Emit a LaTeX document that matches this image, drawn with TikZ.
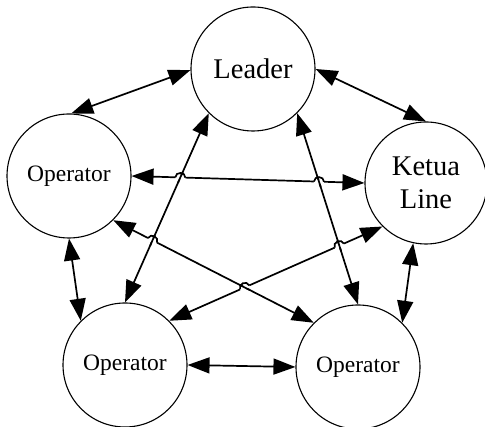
\documentclass[tikz,border=0pt]{standalone}
\usepackage{fontspec}
\setmainfont{Liberation Serif}
\usetikzlibrary{arrows.meta,calc,intersections}
\newcommand\hophere[6]{%
  \path[name intersections={of=#1 and #2,by=X}];
  \coordinate (hA) at ($(X)!5pt!(#3)$);
  \coordinate (hB) at ($(X)!5pt!(#4)$);
  \draw[white,line width=4pt] (hA) -- (hB);
  \draw[conn] ($(X)!6pt!(#5)$) -- ($(X)!6pt!(#6)$);
  \draw[conn] (hA) .. controls ($(hA)!6pt!90:(hB)$) and ($(hB)!6pt!-90:(hA)$) .. (hB);
}
\begin{document}
\begin{tikzpicture}[x=1pt,y=1pt,
  circ/.style={circle,draw,line width=1.1pt,minimum size=124pt,inner sep=0pt,align=center},
  big/.style={font=\fontsize{28.5}{33}\selectfont},
  small/.style={font=\fontsize{23.5}{28}\selectfont},
  conn/.style={line width=1.7pt,>={Triangle[length=22pt,width=16pt]}}]
\useasboundingbox (0,0) rectangle (485,427);
\node[circ,big] (leader) at (253,358) {Leader};
\node[circ,small] (lop) at (69,251) {Operator};
\node[circ,big,minimum size=122pt] (ketua) at (426,244) {Ketua\\Line};
\node[circ,small] (bl) at (125,62) {Operator};
\node[circ,small] (br) at (358,60) {Operator};
\draw[conn,<->] (leader.181) -- (lop.88);
\draw[conn,<->] (leader.0) -- (ketua.90);
\draw[conn,<->,name path=l3] (leader.225) -- (bl.90);
\draw[conn,<->,name path=l4] (leader.315) -- (br.90);
\draw[conn,<->,name path=l5] (lop.0) -- (ketua.180);
\draw[conn,<->,name path=l6] (lop.315) -- (br.135);
\draw[conn,<->,name path=l7] (bl.45) -- (ketua.225);
\draw[conn,<->] (lop.270) -- (bl.135);
\draw[conn,<->] (ketua.258) -- (br.45);
\draw[conn,<->] (bl.0) -- (br.180);
\hophere{l5}{l3}{lop.0}{ketua.180}{leader.225}{bl.90}
\hophere{l5}{l4}{lop.0}{ketua.180}{leader.315}{br.90}
\hophere{l6}{l3}{lop.315}{br.135}{leader.225}{bl.90}
\hophere{l7}{l4}{bl.45}{ketua.225}{leader.315}{br.90}
\hophere{l7}{l6}{bl.45}{ketua.225}{lop.315}{br.135}
\end{tikzpicture}
\end{document}
